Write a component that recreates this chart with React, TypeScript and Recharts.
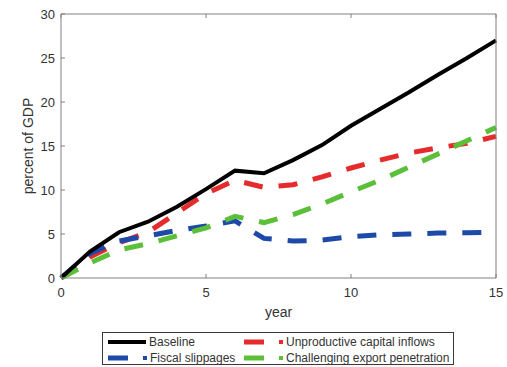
import { LineChart, Line, XAxis, YAxis, Label } from 'recharts';

const years = [0, 1, 2, 3, 4, 5, 6, 7, 8, 9, 10, 11, 12, 13, 14, 15];
const baseline = [0, 3.0, 5.2, 6.4, 8.1, 10.1, 12.2, 11.9, 13.4, 15.1, 17.3, 19.2, 21.1, 23.1, 25.0, 27.0];
const fiscalSlippages = [0, 2.8, 4.2, 4.8, 5.4, 5.9, 6.5, 4.5, 4.2, 4.3, 4.7, 4.9, 5.0, 5.1, 5.15, 5.2];
const unproductiveInflows = [0, 2.4, 4.0, 5.2, 7.4, 9.6, 11.1, 10.3, 10.6, 11.5, 12.5, 13.4, 14.2, 14.8, 15.3, 16.1];
const exportPenetration = [0, 1.7, 3.2, 3.9, 4.8, 5.7, 7.0, 6.3, 7.2, 8.4, 9.8, 11.1, 12.6, 14.1, 15.6, 17.1];

const xTicks = [0, 5, 10, 15];
const yTicks = [0, 5, 10, 15, 20, 25, 30];

const data = years.map((year, i) => ({
  year,
  baseline: baseline[i],
  fiscal: fiscalSlippages[i],
  unproductive: unproductiveInflows[i],
  exportPen: exportPenetration[i],
}));

const FONT = '"Liberation Sans", Arial, Helvetica, sans-serif';
const AXIS = '#808080';
const TEXT = '#333';
const RED = '#e52b2b';
const BLUE = '#1d4aa8';
const GREEN = '#5cbf3a';
const DASH = '19 16';

const tickStyle = { fill: TEXT, fontSize: 13, fontFamily: FONT };

// top/right axes only carry the inner tick marks of the box
const NoTick = () => <g />;

const YLabel = () => (
  <text
    x={28}
    y={146}
    transform="rotate(-90, 28, 146)"
    textAnchor="middle"
    dominantBaseline="central"
    fill={TEXT}
    fontSize={14}
    fontFamily={FONT}
  >
    percent of GDP
  </text>
);

function ChartLegend() {
  const rows = [
    { name: 'Baseline', color: '#000', x: 5, y: 9, solid: true },
    { name: 'Fiscal slippages', color: BLUE, x: 5, y: 25, solid: false },
    { name: 'Unproductive capital inflows', color: RED, x: 141, y: 9, solid: false },
    { name: 'Challenging export penetration', color: GREEN, x: 141, y: 25, solid: false },
  ];
  return (
    <div
      style={{
        position: 'absolute',
        left: 102,
        top: 332,
        width: 350,
        height: 31,
        border: '1px solid #3a3a3a',
        background: '#fff',
      }}
    >
      <svg width={350} height={31}>
        {rows.map((r) => (
          <g key={r.name}>
            {r.solid ? (
              <line x1={r.x} x2={r.x + 38} y1={r.y} y2={r.y} stroke={r.color} strokeWidth={4} />
            ) : (
              <>
                <line x1={r.x} x2={r.x + 20} y1={r.y} y2={r.y} stroke={r.color} strokeWidth={5} />
                <rect x={r.x + 35} y={r.y - 2} width={4} height={4} fill={r.color} />
              </>
            )}
            <text
              x={r.x + 41 + (r.solid ? 0 : 1)}
              y={r.y}
              dominantBaseline="central"
              fill={TEXT}
              fontSize={12}
              fontFamily={FONT}
            >
              {r.name}
            </text>
          </g>
        ))}
      </svg>
    </div>
  );
}

export default function App() {
  return (
    <div style={{ position: 'absolute', left: 0, top: 0, width: 507, height: 367, background: '#fff' }}>
      <LineChart width={507} height={367} data={data} margin={{ top: 0, right: 0, bottom: 49, left: 0 }}>
        <XAxis
          dataKey="year"
          type="number"
          domain={[0, 15]}
          ticks={xTicks}
          interval={0}
          height={40}
          stroke={AXIS}
          tickSize={-4}
          tickMargin={14}
          tick={tickStyle}
        >
          <Label value="year" position="insideBottom" offset={1.5} fill={TEXT} fontSize={14} fontFamily={FONT} />
        </XAxis>
        <XAxis
          xAxisId="top"
          orientation="top"
          dataKey="year"
          type="number"
          domain={[0, 15]}
          ticks={xTicks}
          height={14}
          stroke={AXIS}
          tickSize={-4}
          tick={NoTick}
        />
        <YAxis
          type="number"
          domain={[0, 30]}
          ticks={yTicks}
          interval={0}
          width={61}
          stroke={AXIS}
          tickSize={-4}
          tickMargin={10}
          tick={tickStyle}
          label={<YLabel />}
        />
        <YAxis
          yAxisId="right"
          orientation="right"
          type="number"
          domain={[0, 30]}
          ticks={yTicks}
          width={11}
          stroke={AXIS}
          tickSize={-4}
          tick={NoTick}
        />
        <Line type="linear" dataKey="unproductive" stroke={RED} strokeWidth={5} strokeDasharray={DASH} dot={false} isAnimationActive={false} />
        <Line type="linear" dataKey="fiscal" stroke={BLUE} strokeWidth={5} strokeDasharray={DASH} dot={false} isAnimationActive={false} />
        <Line type="linear" dataKey="exportPen" stroke={GREEN} strokeWidth={5} strokeDasharray={DASH} dot={false} isAnimationActive={false} />
        <Line type="linear" dataKey="baseline" stroke="#000" strokeWidth={4} dot={false} isAnimationActive={false} />
      </LineChart>
      <ChartLegend />
    </div>
  );
}
